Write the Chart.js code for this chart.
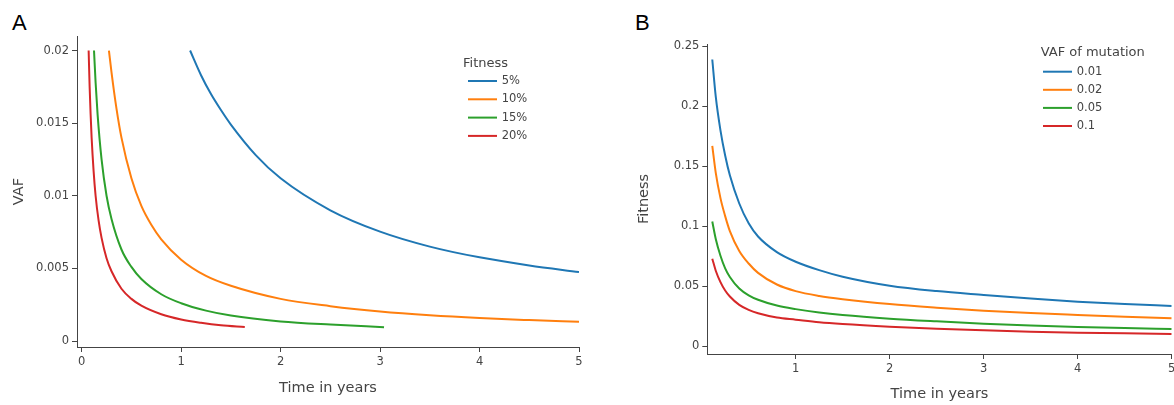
<!DOCTYPE html>
<html>
<head>
<meta charset="UTF-8">
<script src="https://cdn.jsdelivr.net/npm/chart.js@4/dist/chart.umd.min.js"></script>
<style>
body{margin:0;background:#fff;width:1174px;height:405px;position:relative;overflow:hidden}
canvas{position:absolute;top:0}
#ca{left:0}
#cb{left:600px}
.tag{position:absolute;top:12px;font:22px "Liberation Sans",Arial,sans-serif;color:#000;line-height:22px}
</style>
</head>
<body>
<div class="tag" style="left:12px">A</div>
<div class="tag" style="left:635px">B</div>
<canvas id="ca" width="600" height="405"></canvas>
<canvas id="cb" width="574" height="405"></canvas>
<script>
// Panel A: VAF over time for each fitness
const fitnessLabels = ['5%', '10%', '15%', '20%'];
const aTime5 = [1.09, 1.2, 1.3, 1.4, 1.5, 1.75, 2, 2.5, 3, 3.5, 4, 4.5, 5];
const aVaf5 = [0.0200, 0.0183, 0.0170, 0.0159, 0.0149, 0.0128, 0.0112, 0.0090, 0.00753, 0.0065, 0.00576, 0.0052, 0.00475];
const aTime10 = [0.274, 0.3, 0.35, 0.4, 0.5, 0.6, 0.7, 0.8, 1.0, 1.25, 1.5, 2, 2.5, 3, 3.5, 4, 4.5, 5];
const aVaf10 = [0.0200, 0.0185, 0.0160, 0.0140, 0.0112, 0.0093, 0.0080, 0.0070, 0.0056, 0.00448, 0.0038, 0.0029, 0.0024, 0.00203, 0.00177, 0.00158, 0.00144, 0.00132];
const aTime15 = [0.124, 0.14, 0.16, 0.2, 0.25, 0.3, 0.4, 0.5, 0.6, 0.8, 1.0, 1.25, 1.5, 2, 2.5, 3.04];
const aVaf15 = [0.0200, 0.0178, 0.0156, 0.0125, 0.0100, 0.0084, 0.0063, 0.0051, 0.00427, 0.00322, 0.0026, 0.00209, 0.00175, 0.00135, 0.00113, 0.00095];
const aTime20 = [0.07, 0.08, 0.09, 0.1, 0.12, 0.14, 0.17, 0.2, 0.25, 0.3, 0.4, 0.5, 0.6, 0.8, 1.0, 1.2, 1.4, 1.64];
const aVaf20 = [0.0200, 0.0175, 0.0156, 0.0140, 0.0117, 0.0100, 0.0083, 0.0071, 0.0057, 0.0048, 0.0036, 0.0029, 0.00243, 0.00184, 0.00148, 0.00125, 0.00108, 0.00096];
const aXTicks = [0, 1, 2, 3, 4, 5];
const aYTicks = [0, 0.005, 0.01, 0.015, 0.02];

// Panel B: fitness over time for each VAF
const vafLabels = ['0.01', '0.02', '0.05', '0.1'];
const bTime = [0.113, 0.15, 0.2, 0.25, 0.3, 0.4, 0.5, 0.6, 0.8, 1.0, 1.25, 1.5, 2, 2.5, 3, 3.5, 4, 4.5, 5];
const bFit001 = [0.239, 0.208, 0.180, 0.159, 0.1425, 0.119, 0.1025, 0.0915, 0.0785, 0.0705, 0.0635, 0.058, 0.0505, 0.0460, 0.0428, 0.0398, 0.0372, 0.0352, 0.0336];
const bFit002 = [0.167, 0.1445, 0.1235, 0.1085, 0.0960, 0.0795, 0.0690, 0.0612, 0.0515, 0.0460, 0.0420, 0.0393, 0.0352, 0.0322, 0.0297, 0.0277, 0.0261, 0.0246, 0.0233];
const bFit005 = [0.104, 0.0895, 0.0755, 0.0650, 0.0578, 0.0482, 0.0425, 0.0388, 0.0340, 0.0310, 0.0281, 0.0260, 0.0230, 0.0208, 0.0189, 0.0174, 0.0162, 0.0152, 0.0144];
const bFit01 = [0.073, 0.063, 0.0535, 0.0465, 0.0415, 0.0345, 0.0303, 0.0275, 0.0240, 0.0222, 0.0200, 0.0185, 0.0163, 0.0146, 0.0133, 0.0122, 0.0114, 0.0108, 0.0103];
const bXTicks = [1, 2, 3, 4, 5];
const bYTicks = [0, 0.05, 0.1, 0.15, 0.2, 0.25];

const colors = ['#1f77b4', '#ff7f0e', '#2ca02c', '#d62728'];
const axisColor = '#444';

Chart.defaults.font.family = '"DejaVu Sans", Verdana, sans-serif';
Chart.defaults.color = axisColor;

function pts(xs, ys) {
  return xs.map((x, i) => ({ x: x, y: ys[i] }));
}

function series(label, xs, ys, i) {
  return {
    label: label,
    data: pts(xs, ys),
    borderColor: colors[i],
    borderWidth: 2,
    pointRadius: 0,
    fill: false,
    cubicInterpolationMode: 'monotone'
  };
}

// legend drawn inside the plot, like the original
const sideLegend = {
  id: 'sideLegend',
  afterDraw(chart, args, o) {
    const ctx = chart.ctx;
    ctx.save();
    ctx.fillStyle = axisColor;
    ctx.textBaseline = 'middle';
    ctx.font = '13px "DejaVu Sans"';
    ctx.fillText(o.title, o.x, o.y);
    ctx.font = '11.5px "DejaVu Sans"';
    chart.data.datasets.forEach((ds, i) => {
      const y = o.y + o.first + i * o.step;
      ctx.strokeStyle = ds.borderColor;
      ctx.lineWidth = 2;
      ctx.beginPath();
      ctx.moveTo(o.x + o.lineOff, y);
      ctx.lineTo(o.x + o.lineOff + 29, y);
      ctx.stroke();
      ctx.fillText(ds.label, o.x + o.lineOff + 33.7, y);
    });
    ctx.restore();
  }
};

function axis(min, max, tickList, title, size, horizontal) {
  return {
    type: 'linear',
    min: min,
    max: max,
    afterBuildTicks: s => { s.ticks = tickList.map(v => ({ value: v })); },
    afterFit: s => {
      if (horizontal) s.height = size; else s.width = size;
      s.paddingLeft = 0; s.paddingRight = 0; s.paddingTop = 0; s.paddingBottom = 0;
    },
    ticks: { callback: v => String(v), font: { size: 11.5 }, color: axisColor, padding: 3, maxRotation: 0, autoSkip: false },
    grid: { display: true, drawOnChartArea: false, drawTicks: true, tickLength: 5, color: axisColor, lineWidth: 1 },
    border: { display: true, color: axisColor, width: 1 },
    title: { display: true, text: title, font: { size: 14.5 }, color: axisColor, padding: 0 }
  };
}

new Chart(document.getElementById('ca'), {
  type: 'line',
  data: {
    datasets: [
      series(fitnessLabels[0], aTime5, aVaf5, 0),
      series(fitnessLabels[1], aTime10, aVaf10, 1),
      series(fitnessLabels[2], aTime15, aVaf15, 2),
      series(fitnessLabels[3], aTime20, aVaf20, 3)
    ]
  },
  options: {
    responsive: false,
    animation: false,
    layout: { padding: { left: 10.3, right: 21, top: 36, bottom: 8.3 } },
    scales: {
      x: axis(-0.047, 5, aXTicks, 'Time in years', 49.7, true),
      y: axis(-0.000413, 0.0210, aYTicks, 'VAF', 66.7, false)
    },
    plugins: {
      legend: { display: false },
      tooltip: { enabled: false },
      sideLegend: { title: 'Fitness', x: 463, y: 63.3, first: 17.7, step: 18.3, lineOff: 5 }
    }
  },
  plugins: [sideLegend]
});

new Chart(document.getElementById('cb'), {
  type: 'line',
  data: {
    datasets: [
      series(vafLabels[0], bTime, bFit001, 0),
      series(vafLabels[1], bTime, bFit002, 1),
      series(vafLabels[2], bTime, bFit005, 2),
      series(vafLabels[3], bTime, bFit01, 3)
    ]
  },
  options: {
    responsive: false,
    animation: false,
    layout: { padding: { left: 35.8, right: 2.3, top: 44, bottom: 2.3 } },
    scales: {
      x: axis(0.06, 5, bXTicks, 'Time in years', 48.7, true),
      y: axis(-0.0064, 0.2519, bYTicks, 'Fitness', 71.5, false)
    },
    plugins: {
      legend: { display: false },
      tooltip: { enabled: false },
      sideLegend: { title: 'VAF of mutation', x: 440.7, y: 53, first: 18.7, step: 18.1, lineOff: 2.3 }
    }
  },
  plugins: [sideLegend]
});
</script>
</body>
</html>
